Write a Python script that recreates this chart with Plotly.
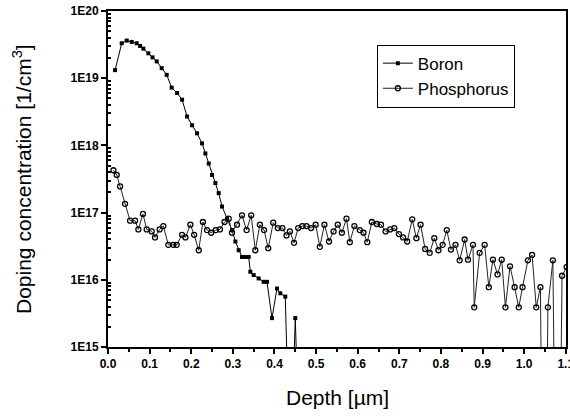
import plotly.graph_objects as go

# Boron profile (depth in um, log10 concentration)
boron_x = [0.017, 0.033, 0.045, 0.057, 0.069, 0.077, 0.085, 0.097, 0.107, 0.117, 0.129, 0.141,
           0.153, 0.166, 0.178, 0.190, 0.202, 0.214, 0.226, 0.234, 0.242, 0.250, 0.258, 0.266,
           0.274, 0.286, 0.298, 0.306, 0.314, 0.322, 0.330, 0.338, 0.342, 0.350, 0.362, 0.374,
           0.382, 0.394, 0.406, 0.414, 0.426, 0.438, 0.450, 0.462]
boron_log = [19.12, 19.52, 19.56, 19.54, 19.52, 19.48, 19.44, 19.37, 19.31, 19.25, 19.15, 19.05,
             18.86, 18.78, 18.68, 18.43, 18.30, 18.18, 18.03, 17.88, 17.73, 17.56, 17.44, 17.29,
             17.09, 16.91, 16.74, 16.57, 16.44, 16.34, 16.34, 16.34, 16.12, 16.07, 16.02, 15.97,
             15.97, 15.43, 15.87, 15.80, 15.75, 13.0, 15.43, 13.0]

# Phosphorus profile
phos_x = [0.013, 0.021, 0.029, 0.041, 0.053, 0.065, 0.073, 0.084, 0.093, 0.105, 0.113, 0.124,
          0.133, 0.145, 0.157, 0.165, 0.178, 0.186, 0.198, 0.207, 0.218, 0.228, 0.238, 0.248,
          0.259, 0.269, 0.280, 0.290, 0.298, 0.310, 0.322, 0.333, 0.344, 0.354, 0.365, 0.375,
          0.385, 0.397, 0.408, 0.419, 0.429, 0.437, 0.447, 0.457, 0.467, 0.477, 0.488, 0.499,
          0.509, 0.520, 0.531, 0.542, 0.552, 0.562, 0.573, 0.581, 0.592, 0.605, 0.614, 0.623,
          0.634, 0.646, 0.656, 0.667, 0.678, 0.688, 0.699, 0.709, 0.719, 0.731, 0.741, 0.751,
          0.762, 0.773, 0.784, 0.794, 0.804, 0.814, 0.824, 0.835, 0.845, 0.857, 0.865, 0.877,
          0.880, 0.893, 0.905, 0.915, 0.925, 0.936, 0.946, 0.955, 0.966, 0.977, 0.987, 0.996,
          1.009, 1.019, 1.029, 1.039, 1.048, 1.057, 1.069, 1.080, 1.091, 1.102]
phos_log = [17.63, 17.56, 17.39, 17.13, 16.88, 16.88, 16.75, 16.98, 16.75, 16.72, 16.63, 16.75,
            16.80, 16.52, 16.52, 16.52, 16.67, 16.63, 16.82, 16.67, 16.44, 16.86, 16.74, 16.70,
            16.74, 16.75, 16.86, 16.91, 16.70, 16.82, 16.96, 16.74, 16.96, 16.44, 16.82, 16.74,
            16.47, 16.85, 16.77, 16.77, 16.66, 16.72, 16.55, 16.77, 16.80, 16.80, 16.77, 16.82,
            16.49, 16.82, 16.57, 16.72, 16.82, 16.70, 16.91, 16.56, 16.80, 16.74, 16.70, 16.56,
            16.86, 16.83, 16.82, 16.72, 16.75, 16.77, 16.68, 16.63, 16.57, 16.90, 16.62, 16.82,
            16.46, 16.40, 16.62, 16.44, 16.52, 16.74, 16.45, 16.52, 16.29, 16.60, 16.30, 16.52,
            15.59, 16.40, 16.52, 15.89, 16.30, 16.08, 16.30, 15.59, 16.20, 15.89, 15.59, 15.89,
            16.29, 16.37, 15.59, 15.89, 10.0, 15.59, 16.29, 10.0, 16.06, 16.19]

y_tick_vals = [1e15, 1e16, 1e17, 1e18, 1e19, 1e20]
y_tick_text = ["1E15", "1E16", "1E17", "1E18", "1E19", "1E20"]
x_tick_vals = [0.0, 0.1, 0.2, 0.3, 0.4, 0.5, 0.6, 0.7, 0.8, 0.9, 1.0, 1.1]
x_tick_text = ["0.0", "0.1", "0.2", "0.3", "0.4", "0.5", "0.6", "0.7", "0.8", "0.9", "1.0", "1.1"]

boron_y = [10.0 ** v for v in boron_log]
phos_y = [10.0 ** v for v in phos_log]

minor_y = [float(m) * 10.0 ** e for e in range(15, 20) for m in range(2, 10)]

fig = go.Figure()
fig.add_trace(go.Scatter(
    x=boron_x, y=boron_y, name="Boron", mode="lines+markers",
    line=dict(color="black", width=1),
    marker=dict(symbol="square", size=4, color="black"),
))
fig.add_trace(go.Scatter(
    x=phos_x, y=phos_y, name="Phosphorus", mode="lines+markers",
    line=dict(color="#222222", width=1),
    marker=dict(symbol="circle-open", size=5, color="black", line=dict(width=1.3)),
))

font_family = "Liberation Sans, Arial, sans-serif"

fig.update_layout(
    width=570, height=417,
    margin=dict(l=108, r=4, t=11, b=70),
    paper_bgcolor="white", plot_bgcolor="white",
    showlegend=True,
    legend=dict(
        x=0.587, y=0.9, xanchor="left", yanchor="top",
        bordercolor="black", borderwidth=1,
        font=dict(family=font_family, size=17, color="black"),
        bgcolor="white", tracegroupgap=2,
    ),
    xaxis=dict(
        range=[0, 1.1005], tickvals=x_tick_vals, ticktext=x_tick_text,
        ticklabeloverflow="allow", automargin=False,
        showline=True, linecolor="black", linewidth=2, mirror=True,
        ticks="outside", ticklen=5, tickwidth=1.5, tickcolor="black",
        minor=dict(tickvals=[0.05 + 0.1 * i for i in range(11)], ticks="outside",
                   ticklen=3, tickcolor="black"),
        showgrid=False, zeroline=False,
        tickfont=dict(family=font_family, size=12, color="black", weight="bold"),
    ),
    yaxis=dict(
        type="log", range=[15, 20], tickvals=y_tick_vals, ticktext=y_tick_text,
        automargin=False,
        showline=True, linecolor="black", linewidth=2, mirror=True,
        ticks="outside", ticklen=5, tickwidth=1.5, tickcolor="black",
        minor=dict(tickvals=minor_y, ticks="inside", ticklen=3, tickcolor="black"),
        showgrid=False, zeroline=False,
        tickfont=dict(family=font_family, size=12, color="black", weight="bold"),
    ),
    annotations=[
        dict(text="Doping concentration [1/cm<sup>3</sup>]", xref="paper", yref="paper",
             x=0, y=0.5, xanchor="center", yanchor="middle", xshift=-86,
             textangle=-90, showarrow=False,
             font=dict(family=font_family, size=21, color="black")),
        dict(text="Depth [µm]", xref="paper", yref="paper",
             x=0.5, y=0, xanchor="center", yanchor="middle", yshift=-50,
             showarrow=False,
             font=dict(family=font_family, size=21, color="black")),
    ],
)

fig.write_html("out.html")
